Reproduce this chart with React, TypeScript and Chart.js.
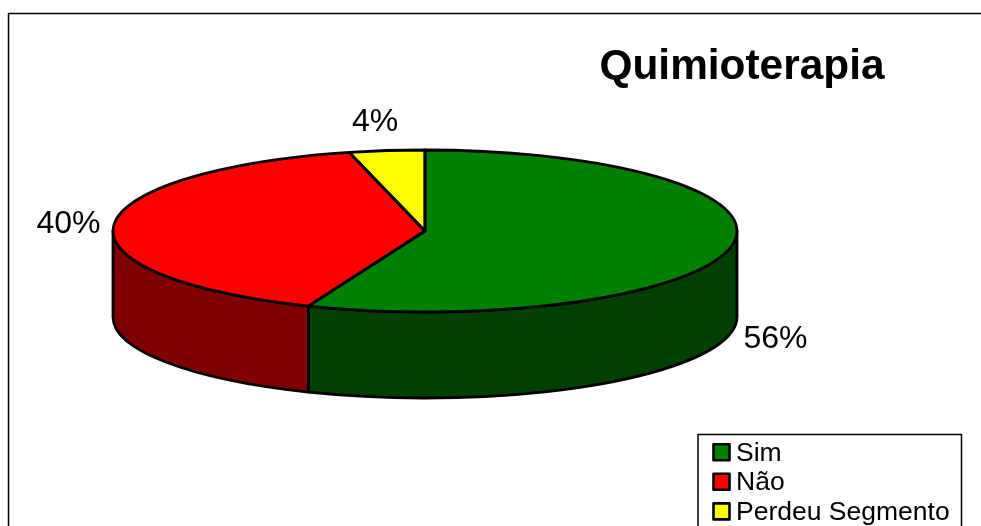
import React, { useEffect, useRef } from "react";
import { Chart, registerables } from "chart.js";

Chart.register(...registerables);

const categories = ["Sim", "Não", "Perdeu Segmento"];
const percentages = [56.1, 40, 3.9];
const chartTitle = "Quimioterapia";

const topColors = ["#008000", "#FF0000", "#FFFF00"];
const sideColors = ["#004000", "#800000", "#808000"];

const FONT = '"Liberation Sans", Arial, sans-serif';
const RX = 312;
const RY = 81;
const DEPTH = 86;
const LABEL_POS = [
  [775.5, 339],
  [68.5, 224],
  [375, 122],
];

const pie3d = {
  id: "pie3d",
  beforeDatasetsDraw(chart: any) {
    const ctx = chart.ctx;
    const arcs = chart.getDatasetMeta(0).data;
    ctx.save();
    ctx.lineWidth = 2.8;
    ctx.strokeStyle = "#000";
    ctx.lineJoin = "round";
    arcs.forEach((arc: any, i: number) => {
      const { x, y, startAngle, endAngle } = arc.getProps(["x", "y", "startAngle", "endAngle"], true);
      const a = Math.max(startAngle, 0);
      const b = Math.min(endAngle, Math.PI);
      if (b <= a) return;
      ctx.beginPath();
      ctx.ellipse(x, y, RX, RY, 0, a, b);
      ctx.ellipse(x, y + DEPTH, RX, RY, 0, b, a, true);
      ctx.closePath();
      ctx.fillStyle = sideColors[i];
      ctx.fill();
      ctx.stroke();
    });
    ctx.restore();
  },
  beforeDatasetDraw(chart: any) {
    const ctx = chart.ctx;
    const arc = chart.getDatasetMeta(0).data[0];
    ctx.save();
    ctx.translate(arc.x, arc.y);
    ctx.scale(1, RY / RX);
    ctx.translate(-arc.x, -arc.y);
  },
  afterDatasetDraw(chart: any) {
    chart.ctx.restore();
  },
  afterDatasetsDraw(chart: any) {
    const ctx = chart.ctx;
    const arcs = chart.getDatasetMeta(0).data;
    ctx.save();
    ctx.lineWidth = 2.8;
    ctx.strokeStyle = "#000";
    ctx.lineJoin = "round";
    arcs.forEach((arc: any) => {
      const { x, y, startAngle, endAngle } = arc.getProps(["x", "y", "startAngle", "endAngle"], true);
      ctx.beginPath();
      ctx.moveTo(x, y);
      ctx.ellipse(x, y, RX, RY, 0, startAngle, endAngle);
      ctx.closePath();
      ctx.stroke();
    });
    // value labels
    ctx.fillStyle = "#000";
    ctx.font = `32px ${FONT}`;
    ctx.textAlign = "center";
    ctx.textBaseline = "middle";
    percentages.forEach((v, i) => {
      ctx.fillText(`${Math.round(v)}%`, LABEL_POS[i][0], LABEL_POS[i][1]);
    });
    // title
    ctx.font = `bold 42.4px ${FONT}`;
    ctx.fillText(chartTitle, 742, 67.5);
    // chart frame: runs off the right and bottom of the picture
    ctx.lineWidth = 1.5;
    ctx.beginPath();
    ctx.moveTo(8.5, 530);
    ctx.lineTo(8.5, 13.5);
    ctx.lineTo(990, 13.5);
    ctx.stroke();
    // legend
    ctx.fillStyle = "#fff";
    ctx.fillRect(698, 434.5, 263.5, 100);
    ctx.strokeRect(698, 434.5, 263.5, 100);
    ctx.font = `26.5px ${FONT}`;
    ctx.textAlign = "left";
    categories.forEach((c, i) => {
      const rowY = 452.2 + i * 29.6;
      ctx.fillStyle = topColors[i];
      ctx.fillRect(713.5, rowY - 8, 16, 16);
      ctx.lineWidth = 2.6;
      ctx.strokeRect(713.5, rowY - 8, 16, 16);
      ctx.fillStyle = "#000";
      ctx.fillText(c, 736, rowY + 1);
    });
    ctx.restore();
  },
};

export default function App() {
  const ref = useRef<HTMLCanvasElement>(null);
  useEffect(() => {
    document.body.style.margin = "0";
    const chart = new Chart(ref.current!, {
      type: "pie",
      data: {
        labels: categories,
        datasets: [
          {
            data: percentages,
            backgroundColor: topColors,
            borderWidth: 0,
          },
        ],
      },
      options: {
        responsive: false,
        animation: false,
        radius: RX,
        layout: { padding: { left: 0, top: 0, right: 131, bottom: 64 } },
        plugins: {
          legend: { display: false },
          title: { display: false },
          tooltip: { enabled: false },
        },
      } as any,
      plugins: [pie3d],
    });
    return () => chart.destroy();
  }, []);
  return <canvas ref={ref} width={981} height={526} style={{ display: "block", background: "#fff" }} />;
}
